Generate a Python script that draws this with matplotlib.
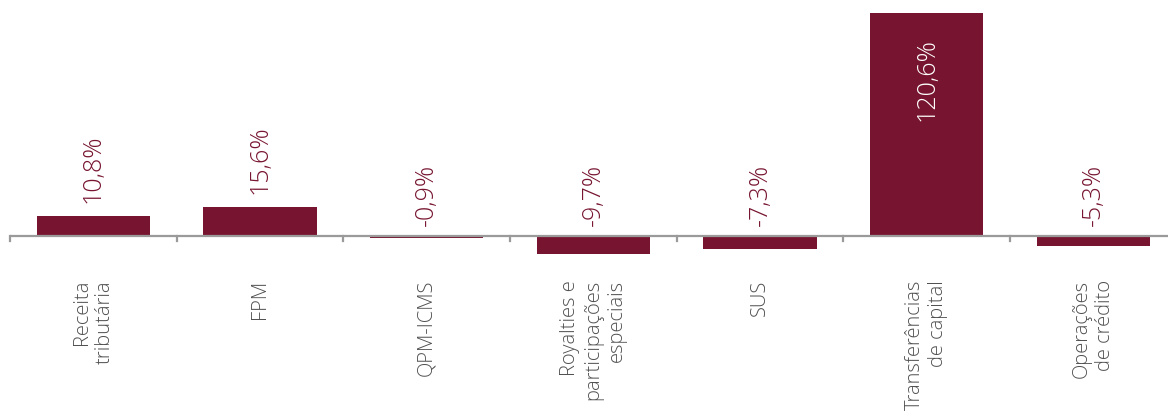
import matplotlib
matplotlib.use("Agg")
import matplotlib.pyplot as plt
from matplotlib.ticker import FixedLocator

categories = [
    "Receita\ntributária",
    "FPM",
    "QPM-ICMS",
    "Royalties e\nparticipações\nespeciais",
    "SUS",
    "Transferências\nde capital",
    "Operações\nde crédito",
]
values = [10.8, 15.6, -0.9, -9.7, -7.3, 120.6, -5.3]
value_labels = ["10,8%", "15,6%", "-0,9%", "-9,7%", "-7,3%", "120,6%", "-5,3%"]

BAR = "#771530"
AXIS = "#9a9a9a"
TEXT = "#505050"
FONT = ["Open Sans", "DejaVu Sans"]
WEIGHT = 300

W, H = 1168, 416
fig = plt.figure(figsize=(W / 100, H / 100), dpi=100)

# axes placed in pixel coordinates: zero line at y=236 px from the top
top_px, zero_px = 13, 236
ymax = max(values)
scale = (zero_px - top_px) / ymax
ymin = -12.0
bottom_px = zero_px - ymin * scale
left_px, right_px = 10, W
cat_w = 1000 / 6
ax = fig.add_axes([left_px / W, 1 - bottom_px / H,
                   (right_px - left_px) / W, (bottom_px - top_px) / H])

x = list(range(len(categories)))
ax.bar(x, values, width=0.68, color=BAR, zorder=2)

ax.set_xlim(-0.5, -0.5 + (right_px - left_px) / cat_w)
ax.set_ylim(ymin, ymax)

for s in ("top", "right", "left", "bottom"):
    ax.spines[s].set_visible(False)
ax.axhline(0, color=AXIS, lw=1.6, zorder=3)
ax.set_yticks([])
ax.xaxis.set_major_locator(FixedLocator([]))

# tick marks between categories, hanging below the zero line
for b in [i - 0.5 for i in range(len(categories) + 1)]:
    ax.plot([b, b], [0, -5 / scale], color=AXIS, lw=1.6,
            clip_on=False, zorder=3)

VSIZE = 18
for xi, v, lab in zip(x, values, value_labels):
    if v >= 100:
        ax.annotate(lab, (xi, v), xytext=(0, -25), textcoords="offset pixels",
                    rotation=90, ha="center", va="top", color="white",
                    fontsize=VSIZE, family=FONT, fontweight=WEIGHT)
    elif v > 0:
        ax.annotate(lab, (xi, v), xytext=(0, 13), textcoords="offset pixels",
                    rotation=90, ha="center", va="bottom", color=BAR,
                    fontsize=VSIZE, family=FONT, fontweight=WEIGHT)
    else:
        ax.annotate(lab, (xi, 0), xytext=(0, 10), textcoords="offset pixels",
                    rotation=90, ha="center", va="bottom", color=BAR,
                    fontsize=VSIZE, family=FONT, fontweight=WEIGHT)

for xi, cat in zip(x, categories):
    ax.annotate(cat, (xi, 0), xytext=(0, -(280 - zero_px)),
                textcoords="offset pixels", rotation=90, ha="center",
                va="top", multialignment="right", color=TEXT,
                fontsize=14.5, family=FONT, fontweight=WEIGHT,
                linespacing=1.22, annotation_clip=False)

fig.savefig("out.png", dpi=100)
